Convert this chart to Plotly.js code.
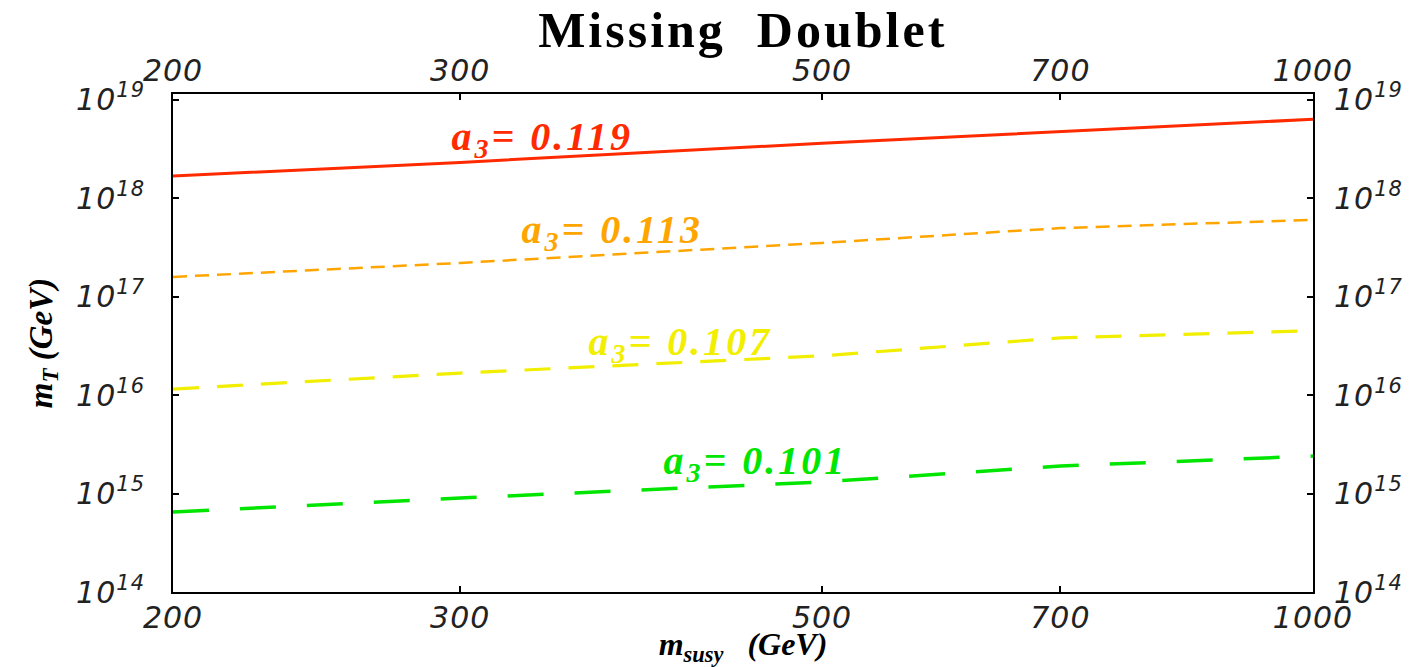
<!DOCTYPE html>
<html>
<head>
<meta charset="utf-8">
<script src="https://cdn.plot.ly/plotly-3.0.1.min.js"></script>
<style>
html,body{margin:0;padding:0;background:#fff;}
#chart{width:1412px;height:667px;}
#chart .annotation-text{letter-spacing:3px;}
#chart .gtitle{letter-spacing:3px;}
#chart .xtick text, #chart .x2tick text, #chart .ytick text, #chart .y2tick text{letter-spacing:1px;}
</style>
</head>
<body>
<div id="chart"></div>
<script>
// m_susy values (GeV)
const msusy = [200, 300, 500, 700, 1000];
// m_T (GeV) for each alpha_3 value
const mT_0119 = [1.67e18, 2.3e18, 3.6e18, 4.7e18, 6.3e18];
const mT_0113 = [1.58e17, 2.19e17, 3.5e17, 4.95e17, 6.0e17];
const mT_0107 = [1.15e16, 1.67e16, 2.5e16, 3.8e16, 4.5e16];
const mT_0101 = [6.5e14, 9.0e14, 1.31e15, 1.9e15, 2.4e15];
const seriesLabels = ["a<sub>3</sub>= 0.119", "a<sub>3</sub>= 0.113", "a<sub>3</sub>= 0.107", "a<sub>3</sub>= 0.101"];
// label anchor points (m_susy, m_T)
const labelX = [337, 372, 410, 455];
const labelY = [4.0e18, 4.5e17, 3.3e16, 2.05e15];
const xTickVals = [200, 300, 500, 700, 1000];
const xTickText = ["200", "300", "500", "700", "1000"];
const yTickVals = [1e14, 1e15, 1e16, 1e17, 1e18, 1e19];
const yTickText = ["10<sup>14</sup>", "10<sup>15</sup>", "10<sup>16</sup>", "10<sup>17</sup>", "10<sup>18</sup>", "10<sup>19</sup>"];

const colors = ["#ff2a00", "#ffa500", "#f2ee00", "#00e600"];
const dashes = ["solid", "14px,8px", "26px,18px", "36px,31px"];
const widths = [3, 2.5, 3.2, 3.5];
const allY = [mT_0119, mT_0113, mT_0107, mT_0101];

const traces = allY.map((ys, i) => ({
  x: msusy, y: ys, type: "scatter", mode: "lines",
  line: {color: colors[i], dash: dashes[i], width: widths[i]},
  showlegend: false, hoverinfo: "skip"
}));
// invisible trace to carry the top and right axes
traces.push({x: msusy, y: mT_0119, xaxis: "x2", yaxis: "y2", type: "scatter", mode: "lines",
  line: {width: 0, color: "rgba(0,0,0,0)"}, showlegend: false, hoverinfo: "skip"});

const tickFont = {family: "DejaVu Sans", size: 30, color: "#222", style: "italic"};
const xr = [Math.log10(200), Math.log10(1000)];
const yr = [14, 19.056];

const layout = {
  width: 1412, height: 667,
  margin: {l: 173, r: 99, t: 94, b: 75},
  paper_bgcolor: "#fff", plot_bgcolor: "#fff",
  title: {text: "<b>Missing  Doublet</b>", x: 0.526, xanchor: "center", y: 0.956, yanchor: "middle",
    font: {family: "Liberation Serif", size: 50, color: "#000"}},
  xaxis: {type: "log", range: xr, tickvals: xTickVals, ticktext: xTickText, ticks: "inside", ticklen: 6,
    tickcolor: "#000", tickwidth: 2, showline: true, linecolor: "#000", linewidth: 2, mirror: true,
    showgrid: false, zeroline: false, tickfont: tickFont, ticklabelstandoff: -2,
    title: {text: "<b><i>m<sub>susy</sub>   (GeV)</i></b>", font: {family: "Liberation Serif", size: 32, color: "#000"}, standoff: 12}},
  xaxis2: {type: "log", range: xr, overlaying: "x", side: "top", anchor: "y", tickvals: xTickVals, ticktext: xTickText,
    ticks: "inside", ticklen: 6, tickcolor: "#000", tickwidth: 2, showgrid: false, zeroline: false, showline: false,
    tickfont: tickFont, ticklabelstandoff: 6},
  yaxis: {type: "log", range: yr, tickvals: yTickVals, ticktext: yTickText, ticks: "inside", ticklen: 6,
    tickcolor: "#000", tickwidth: 2, showline: true, linecolor: "#000", linewidth: 2, mirror: true,
    showgrid: false, zeroline: false, tickfont: tickFont, ticklabelstandoff: 20,
    title: {text: "<b><i>m<sub>T</sub> (GeV)</i></b>", font: {family: "Liberation Serif", size: 33, color: "#000"}, standoff: 18}},
  yaxis2: {type: "log", range: yr, overlaying: "y", side: "right", anchor: "x", tickvals: yTickVals, ticktext: yTickText,
    ticks: "inside", ticklen: 6, tickcolor: "#000", tickwidth: 2, showgrid: false, zeroline: false, showline: false,
    tickfont: tickFont, ticklabelstandoff: 20},
  annotations: seriesLabels.map((t, i) => ({
    text: "<b><i>" + t + "</i></b>", x: Math.log10(labelX[i]), y: Math.log10(labelY[i]),
    xref: "x", yref: "y", showarrow: false, xanchor: "center", yanchor: "middle",
    font: {family: "Liberation Serif", size: 40, color: colors[i]}
  }))
};

Plotly.newPlot("chart", traces, layout, {displayModeBar: false, staticPlot: true});
</script>
</body>
</html>
